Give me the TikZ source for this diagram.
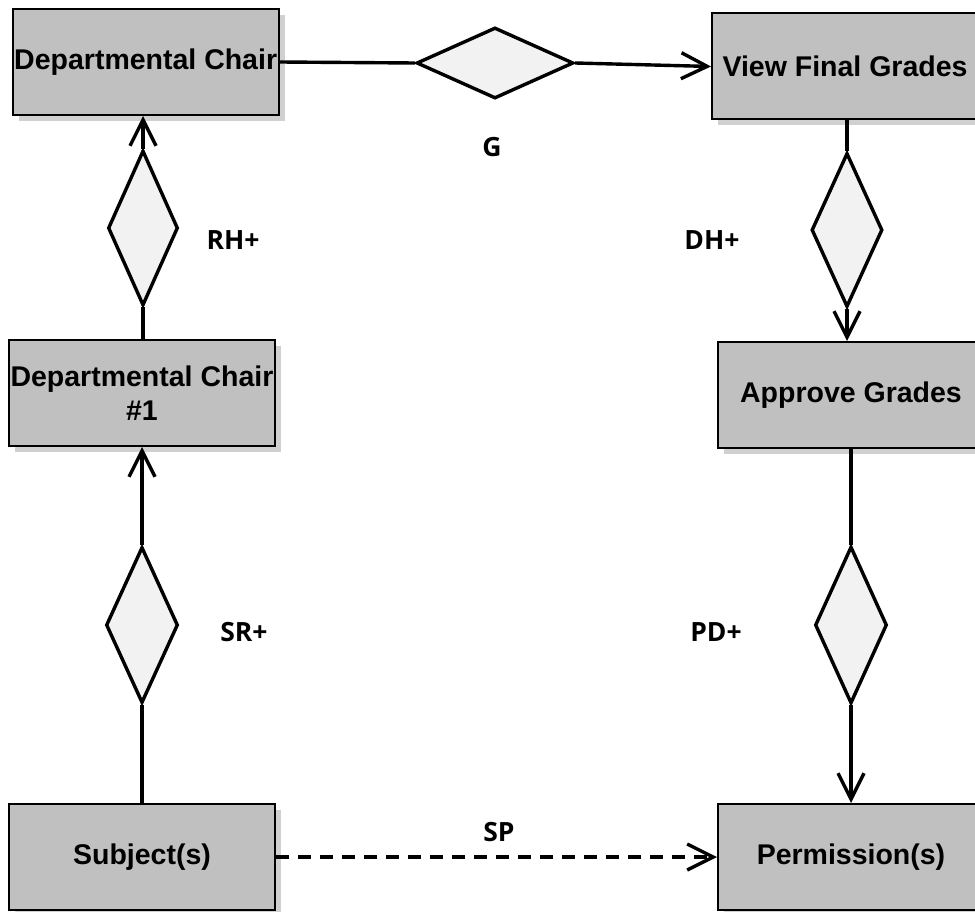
\documentclass[tikz,border=0pt]{standalone}
\usepackage{fontspec}
\setmainfont{Liberation Sans}
\newfontfamily\labelfont{Open Sans}
\usetikzlibrary{shapes.geometric,arrows.meta,shadows}

\definecolor{boxgray}{HTML}{C0C0C0}
\definecolor{shadowgray}{HTML}{D0D0D0}
\definecolor{relfill}{HTML}{F2F2F2}

\begin{document}
\begin{tikzpicture}[x=1pt,y=-1pt,
  entity/.style={draw=black, line width=2pt, fill=boxgray,
    minimum width=266pt, minimum height=106pt, inner sep=0pt,
    font=\fontsize{28.5}{34}\selectfont\bfseries, align=center,
    drop shadow={shadow xshift=6pt, shadow yshift=-6pt, fill=shadowgray, opacity=1}},
  rel/.style={diamond, draw=black, line width=3.4pt, fill=relfill, inner sep=0pt},
  link/.style={line width=3.4pt},
  arr/.style={-{Straight Barb[length=26pt,width=26pt]}},
  tag/.style={font=\labelfont\fontsize{26.5}{30}\selectfont\bfseries}]

\useasboundingbox (0,0) rectangle (975,912);

% entities
\node[entity] (dc)   at (145.7,62)  {Departmental Chair};
\node[entity] (vfg)  at (845,66.5)  {View Final Grades};
\node[entity] (dc1)  at (142,393)   {Departmental Chair\\\#1};
\node[entity] (ag)   at (851,395)   {Approve Grades};
\node[entity] (subj) at (142,857)   {Subject(s)};
\node[entity] (perm) at (851,857)   {Permission(s)};

% relationships
\node[rel, minimum width=157pt, minimum height=71pt] (g)  at (495,63)  {};
\node[rel, minimum width=70pt,  minimum height=155pt] (rh) at (143,228) {};
\node[rel, minimum width=71pt,  minimum height=154pt] (dh) at (847,230) {};
\node[rel, minimum width=72pt,  minimum height=156pt] (sr) at (142,625) {};
\node[rel, minimum width=72pt,  minimum height=157pt] (pd) at (851,625) {};

% relationship labels
\node[tag] (gl)  at (492,147) {G};
\node[tag] (rhl) at (233,240) {RH+};
\node[tag] (dhl) at (712,240) {DH+};
\node[tag] (srl) at (244,632) {SR+};
\node[tag] (pdl) at (716,632) {PD+};
\node[tag] (spl) at (499,832) {SP};

% connectors
\draw[link] (dc.east) -- (g.west);
\draw[link,arr] (g.east) -- (vfg.west);

\draw[link] (dc1.north -| rh.south) -- (rh.south);
\draw[link,arr] (rh.north) -- (rh.north |- dc.south);

\draw[link] (vfg.south) -- (vfg.south -| dh.north) -- (dh.north);
\draw[link,arr] (dh.south) -- (dh.south |- ag.north);

\draw[link] (subj.north) -- (sr.south);
\draw[link,arr] (sr.north) -- (sr.north |- dc1.south);

\draw[link] (ag.south) -- (pd.north);
\draw[link,arr] (pd.south) -- (perm.north);

\draw[link,arr,dash pattern=on 13pt off 9pt] (subj.east) -- (perm.west);

\end{tikzpicture}
\end{document}
